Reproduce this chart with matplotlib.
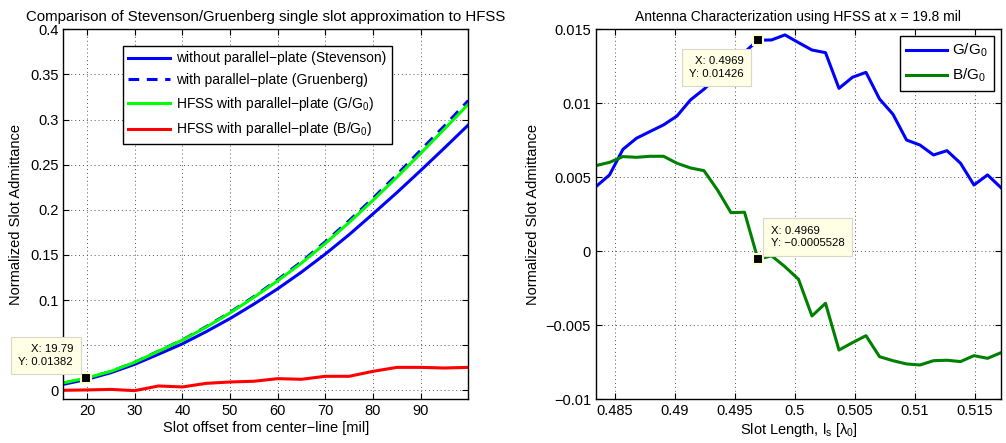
import numpy as np
import matplotlib
matplotlib.use('Agg')
import matplotlib.pyplot as plt
from matplotlib import ticker

plt.rcParams['font.family'] = ['Liberation Sans', 'DejaVu Sans']
plt.rcParams['mathtext.fontset'] = 'custom'
plt.rcParams['mathtext.rm'] = 'Liberation Sans'
plt.rcParams['mathtext.it'] = 'Liberation Sans:italic'
plt.rcParams['axes.unicode_minus'] = True

# left panel data
offset = [15, 20, 25, 30, 35, 40, 45, 50, 55, 60, 65, 70, 75, 80, 85, 90, 95, 100]
stevenson = [0.0066, 0.0122, 0.0195, 0.0288, 0.0400, 0.0515, 0.0650, 0.0795, 0.0955,
             0.1125, 0.1310, 0.1510, 0.1725, 0.1955, 0.2190, 0.2435, 0.2685, 0.2940]
gruenberg = [0.0078, 0.0134, 0.0208, 0.0310, 0.0434, 0.0558, 0.0705, 0.0864, 0.1038,
             0.1225, 0.1425, 0.1646, 0.1880, 0.2128, 0.2388, 0.2660, 0.2930, 0.3210]
hfss_g = [0.0082, 0.0138, 0.0210, 0.0310, 0.0432, 0.0556, 0.0700, 0.0857, 0.1030,
          0.1213, 0.1410, 0.1628, 0.1860, 0.2105, 0.2360, 0.2625, 0.2895, 0.3170]
hfss_b = [0.0000, 0.0004, 0.0010, -0.0004, 0.0048, 0.0037, 0.0077, 0.0092, 0.0100,
          0.0129, 0.0122, 0.0155, 0.0155, 0.0210, 0.0254, 0.0254, 0.0247, 0.0254]

# right panel data
slot_len = [0.48342, 0.48455, 0.48567, 0.48680, 0.48792, 0.48905, 0.49017, 0.49130,
            0.49242, 0.49355, 0.49467, 0.49580, 0.49692, 0.49805, 0.49917, 0.50030,
            0.50142, 0.50255, 0.50367, 0.50480, 0.50592, 0.50705, 0.50817, 0.50930,
            0.51042, 0.51155, 0.51267, 0.51380, 0.51492, 0.51605, 0.51717]
g_norm = [0.00437, 0.00516, 0.00689, 0.00764, 0.00809, 0.00854, 0.00914, 0.01023,
          0.01095, 0.01178, 0.01261, 0.01345, 0.01426, 0.01428, 0.01462, 0.01410,
          0.01360, 0.01342, 0.01101, 0.01176, 0.01209, 0.01029, 0.00926, 0.00752,
          0.00718, 0.00651, 0.00680, 0.00595, 0.00448, 0.00516, 0.00430]
b_norm = [0.00579, 0.00601, 0.00640, 0.00635, 0.00642, 0.00642, 0.00595, 0.00563,
          0.00545, 0.00414, 0.00261, 0.00264, -0.00055, -0.00030, -0.00104, -0.00189,
          -0.00437, -0.00351, -0.00667, -0.00617, -0.00570, -0.00712, -0.00739, -0.00761,
          -0.00768, -0.00739, -0.00736, -0.00745, -0.00705, -0.00723, -0.00685]

fig = plt.figure(figsize=(10.06, 4.43), dpi=100)
ax1 = fig.add_axes([0.0629, 0.0986, 0.4026, 0.8353])
ax2 = fig.add_axes([0.5924, 0.0986, 0.4026, 0.8353])

fs = 10.5
lw = 2.2


def fmt(v, p):
    return ('%g' % v).replace('-', '\u2212')


def style(ax):
    ax.grid(True, color='#555555', linestyle=(0, (1, 3)), linewidth=0.7)
    ax.tick_params(direction='in', top=True, right=True, labelsize=fs, length=4, width=0.8)
    for s in ax.spines.values():
        s.set_linewidth(1.0)
    ax.xaxis.set_major_formatter(ticker.FuncFormatter(fmt))
    ax.yaxis.set_major_formatter(ticker.FuncFormatter(fmt))


def datatip(ax, x, y, txt, off, ha, va, ma):
    ax.plot([x], [y], 's', ms=7, mfc='k', mec='#FFFFD8', mew=1.5, zorder=6)
    ax.annotate(txt, xy=(x, y), xytext=off, textcoords='offset pixels', ha=ha, va=va,
                multialignment=ma, fontsize=8.2, zorder=7, linespacing=1.35,
                annotation_clip=False,
                bbox=dict(boxstyle='square,pad=0.65', fc='#FFFFE6', ec='#D8D8C8', lw=0.8))


# left panel
ax1.plot(offset, stevenson, color='#0000FF', lw=lw, label='without parallel\u2212plate (Stevenson)')
ax1.plot(offset, gruenberg, color='#0000FF', lw=lw, linestyle=(0, (3.5, 2.5)),
         label='with parallel\u2212plate (Gruenberg)')
ax1.plot(offset, hfss_g, color='#00FF00', lw=lw, label='HFSS with parallel\u2212plate (G/G$_0$)')
ax1.plot(offset, hfss_b, color='#FF0000', lw=lw, label='HFSS with parallel\u2212plate (B/G$_0$)')
ax1.set_xlim(15, 100)
ax1.set_ylim(-0.01, 0.4)
ax1.set_xticks([20, 30, 40, 50, 60, 70, 80, 90])
ax1.set_yticks([0, 0.05, 0.1, 0.15, 0.2, 0.25, 0.3, 0.35, 0.4])
style(ax1)
ax1.set_title('Comparison of Stevenson/Gruenberg single slot approximation to HFSS', fontsize=10.8, pad=6)
ax1.set_xlabel('Slot offset from center\u2212line [mil]', fontsize=fs, labelpad=2)
ax1.set_ylabel('Normalized Slot Admittance', fontsize=fs, labelpad=5)
leg = ax1.legend(loc='upper left', bbox_to_anchor=(0.147, 0.955), borderaxespad=0, fontsize=10,
                 fancybox=False, edgecolor='k', framealpha=1, handlelength=3.0,
                 handletextpad=0.45, labelspacing=0.55)
leg.get_frame().set_linewidth(1.0)
datatip(ax1, 19.79, 0.01382, 'X: 19.79\nY: 0.01382', (-13, 11), 'right', 'bottom', 'right')

# right panel
ax2.plot(slot_len, g_norm, color='#0000FF', lw=lw, label='G/G$_0$')
ax2.plot(slot_len, b_norm, color='#008000', lw=lw, label='B/G$_0$')
ax2.set_xlim(0.48342, 0.51717)
ax2.set_ylim(-0.01, 0.015)
ax2.set_xticks([0.485, 0.49, 0.495, 0.5, 0.505, 0.51, 0.515])
ax2.set_yticks([-0.01, -0.005, 0, 0.005, 0.01, 0.015])
style(ax2)
ax2.set_title('Antenna Characterization using HFSS at x = 19.8 mil', fontsize=10, pad=6)
ax2.set_xlabel('Slot Length, l$_\\mathrm{s}$ [\u03bb$_0$]', fontsize=fs, labelpad=2)
ax2.set_ylabel('Normalized Slot Admittance', fontsize=fs, labelpad=4)
leg2 = ax2.legend(loc='upper right', bbox_to_anchor=(0.983, 0.982), borderaxespad=0, fontsize=11,
                  fancybox=False, edgecolor='k', framealpha=1, handlelength=2.7,
                  handletextpad=0.35, labelspacing=0.5)
leg2.get_frame().set_linewidth(1.0)
datatip(ax2, 0.4969, 0.01426, 'X: 0.4969\nY: 0.01426', (-14, -16), 'right', 'top', 'right')
datatip(ax2, 0.4969, -0.0005528, 'X: 0.4969\nY: \u22120.0005528', (13, 11), 'left', 'bottom', 'left')

fig.savefig('out.png', dpi=100)
